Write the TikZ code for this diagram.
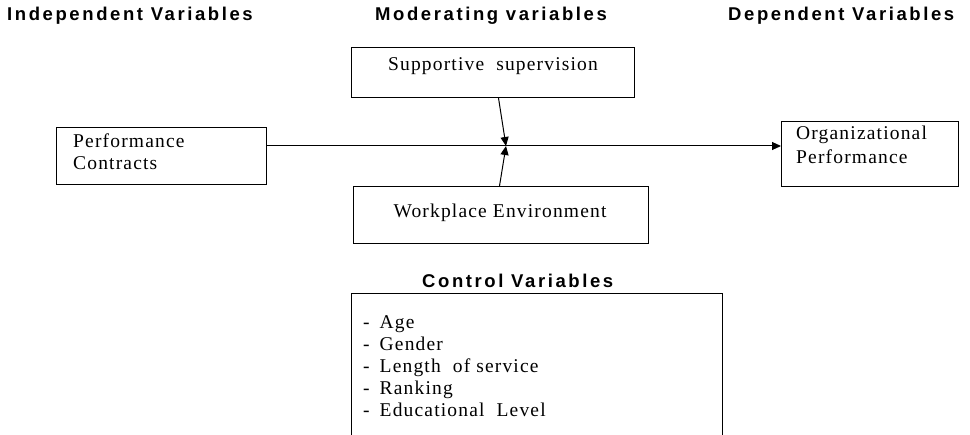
\documentclass[tikz,border=0pt]{standalone}
\usepackage{fontspec}
\setmainfont{Liberation Serif}[LetterSpace=6]
\newfontfamily\headfont{Liberation Sans}[LetterSpace=14]
\usetikzlibrary{arrows.meta}
\begin{document}
\begin{tikzpicture}[x=1pt,y=-1pt,
  box/.style={draw=black, line width=1pt, inner sep=0pt, anchor=north west},
  head/.style={font=\headfont\bfseries\fontsize{18.5}{21}\selectfont, inner sep=0pt, anchor=west},
  body/.style={font=\fontsize{19.5}{22}\selectfont, inner sep=0pt},
  link/.style={line width=1pt, -{Triangle[length=9pt,width=8pt]}}]
\useasboundingbox (0,0) rectangle (970,435);
\clip (0,0) rectangle (970,435);

% column headings
\node[head] (hind) at (7,16) {Independent Variables};
\node[head] (hmod) at (375,16) {Moderating variables};
\node[head] (hdep) at (728,16) {Dependent Variables};
\node[head] (hctl) at (422,281) {Control Variables};

% boxes
\node[box, minimum width=210pt, minimum height=57pt] (perf) at (56,127) {};
\node[box, minimum width=177pt, minimum height=65pt] (org) at (781,121) {};
\node[box, minimum width=283pt, minimum height=50pt] (sup) at (351,47) {};
\node[box, minimum width=295pt, minimum height=57pt] (work) at (353,186) {};
\node[box, minimum width=371pt, minimum height=160pt] (ctrl) at (351,293) {};

% box texts
\node[body, anchor=west] (perf1) at (73,141) {Performance};
\node[body, anchor=west] (perf2) at (73,163) {Contracts};
\node[body, anchor=west] (org1) at (796,135) {Organizational};
\node[body, anchor=west] (org2) at (796,157) {Performance};
\node[body] (supt) at (493,66) {Supportive\ \ supervision};
\node[body] (workt) at (500,213) {Workplace Environment};
\node[body, anchor=north west, align=left] (ctrlt) at (363,313)
  {\begin{tabular}{@{}l@{\hspace{10pt}}l@{}}
   - & Age\\
   - & Gender\\
   - & Length\ \ of service\\
   - & Ranking\\
   - & Educational\ \ Level
   \end{tabular}};

% connectors
\coordinate (j) at (506,146);
\draw[link] (perf.east |- j) -- (org.west |- j);
\draw[link] ([xshift=5.5pt]sup.south) -- (j);
\draw[link] ([xshift=-1.5pt]work.north) -- (j);
\end{tikzpicture}
\end{document}
